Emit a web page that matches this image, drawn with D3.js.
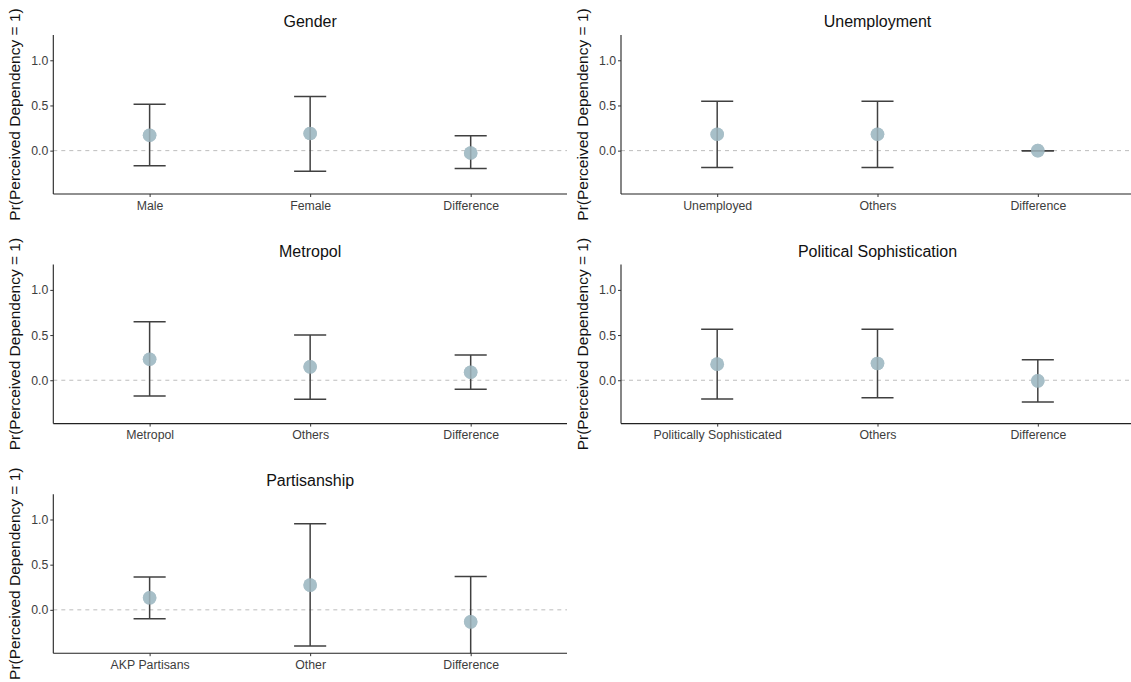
<!DOCTYPE html>
<html>
<head>
<meta charset="utf-8">
<script src="https://cdn.jsdelivr.net/npm/d3@7"></script>
<style>
  html, body { margin: 0; padding: 0; background: #ffffff; }
  svg { display: block; font-family: "Liberation Sans", Arial, Helvetica, sans-serif; }
</style>
</head>
<body>
<svg id="chart" width="1131" height="682"></svg>
<script>
// ---- data ----
const panelTitles = ["Gender", "Unemployment", "Metropol", "Political Sophistication", "Partisanship"];
const categories = [
  ["Male", "Female", "Difference"],
  ["Unemployed", "Others", "Difference"],
  ["Metropol", "Others", "Difference"],
  ["Politically Sophisticated", "Others", "Difference"],
  ["AKP Partisans", "Other", "Difference"]
];
const estimates = [
  [0.171, 0.190, -0.026],
  [0.182, 0.182, 0.000],
  [0.233, 0.148, 0.089],
  [0.178, 0.186, -0.007],
  [0.133, 0.274, -0.133]
];
const lowerCI = [
  [-0.167, -0.227, -0.197],
  [-0.186, -0.186, 0.000],
  [-0.174, -0.211, -0.100],
  [-0.208, -0.193, -0.242],
  [-0.100, -0.400, -0.640]
];
const upperCI = [
  [0.513, 0.599, 0.164],
  [0.546, 0.546, 0.000],
  [0.648, 0.500, 0.278],
  [0.565, 0.565, 0.227],
  [0.363, 0.952, 0.370]
];
const yTicks = [0.0, 0.5, 1.0];
const yDomain = [-0.48, 1.28];
const yLabel = "Pr(Perceived Dependency = 1)";

// ---- layout ----
const colLeft = [53.3, 621];
const colRight = [567, 1134];
const rowTop = 35, rowBottom = 194, rowStep = 229.6;

const svg = d3.select("#chart");

panelTitles.forEach((title, i) => {
  const col = i % 2, row = Math.floor(i / 2);
  const x0 = colLeft[col], x1 = colRight[col];
  const y0 = rowTop + row * rowStep, y1 = rowBottom + row * rowStep;

  const x = d3.scalePoint().domain(categories[i]).range([x0, x1]).padding(0.6);
  const y = d3.scaleLinear().domain(yDomain).range([y1, y0]);
  const capHalf = x.step() * 0.1;

  const g = svg.append("g");

  const clipId = "clip" + i;
  svg.append("clipPath").attr("id", clipId)
    .append("rect").attr("x", x0).attr("y", y0).attr("width", x1 - x0).attr("height", y1 - y0);

  // dashed zero line
  g.append("line")
    .attr("x1", x0).attr("x2", x1)
    .attr("y1", y(0)).attr("y2", y(0))
    .attr("stroke", "#bdbdbd").attr("stroke-width", 1)
    .attr("stroke-dasharray", "4,4");

  const plot = g.append("g").attr("clip-path", `url(#${clipId})`);
  const data = categories[i].map((c, j) => ({c, est: estimates[i][j], lo: lowerCI[i][j], hi: upperCI[i][j]}));

  plot.selectAll("circle").data(data).enter().append("circle")
    .attr("cx", d => x(d.c)).attr("cy", d => y(d.est)).attr("r", 6.8)
    .attr("fill", "#a6bec7").attr("opacity", 0.95);

  const eb = plot.selectAll("g.eb").data(data).enter().append("g").attr("class", "eb")
    .attr("stroke", "#404040").attr("stroke-width", 1.5).attr("fill", "none");
  eb.append("line")
    .attr("x1", d => x(d.c)).attr("x2", d => x(d.c))
    .attr("y1", d => y(d.lo)).attr("y2", d => y(d.hi));
  eb.append("line")
    .attr("x1", d => x(d.c) - capHalf).attr("x2", d => x(d.c) + capHalf)
    .attr("y1", d => y(d.hi)).attr("y2", d => y(d.hi));
  eb.append("line")
    .attr("x1", d => x(d.c) - capHalf).attr("x2", d => x(d.c) + capHalf)
    .attr("y1", d => y(d.lo)).attr("y2", d => y(d.lo));

  plot.selectAll("circle.top").data(data).enter().append("circle").attr("class", "top")
    .attr("cx", d => x(d.c)).attr("cy", d => y(d.est)).attr("r", 6.8)
    .attr("fill", "#a6bec7").attr("opacity", 0.8);

  // axes
  const yAxis = d3.axisLeft(y).tickValues(yTicks).tickFormat(d3.format(".1f")).tickSize(3).tickSizeOuter(0).tickPadding(2);
  const gy = g.append("g").attr("transform", `translate(${x0},0)`).call(yAxis);
  gy.select(".domain").attr("d", `M0,${y0}V${y1}`).attr("stroke", "#222").attr("stroke-width", 1.1);
  gy.selectAll(".tick line").attr("stroke", "#333");
  gy.selectAll(".tick text").attr("fill", "#3d3d3d").style("font-size", "12.3px");

  const xAxis = d3.axisBottom(x).tickSize(3).tickSizeOuter(0).tickPadding(4);
  const gx = g.append("g").attr("transform", `translate(0,${y1})`).call(xAxis);
  gx.select(".domain").attr("d", `M${x0},0H${x1}`).attr("stroke", "#222").attr("stroke-width", 1.1);
  gx.selectAll(".tick line").attr("stroke", "#333");
  gx.selectAll(".tick text").attr("fill", "#3d3d3d").style("font-size", "12.3px");

  // title
  g.append("text")
    .attr("x", (x0 + x1) / 2).attr("y", y0 - 8)
    .attr("text-anchor", "middle").attr("fill", "#111")
    .style("font-size", "16px").text(title);

  // y label
  g.append("text")
    .attr("transform", `translate(${x0 - 33},${(y0 + y1) / 2}) rotate(-90)`)
    .attr("text-anchor", "middle").attr("fill", "#111")
    .style("font-size", "15.5px").text(yLabel);
});
</script>
</body>
</html>
